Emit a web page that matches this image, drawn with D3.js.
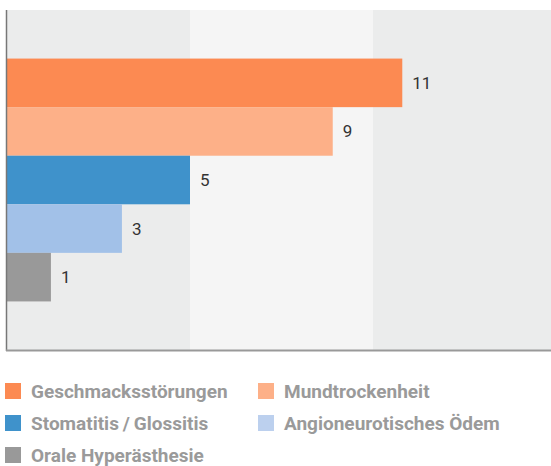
<!DOCTYPE html>
<html>
<head>
<meta charset="utf-8">
<script src="https://cdn.jsdelivr.net/npm/d3@7"></script>
<style>
  body { margin: 0; background: #fff; }
  svg { display: block; font-family: Roboto, "Open Sans", sans-serif; }
</style>
</head>
<body>
<script>
// data
var categories = ["Geschmacksstörungen", "Mundtrockenheit", "Stomatitis\u2009/\u2009Glossitis",
                  "Angioneurotisches Ödem", "Orale Hyperästhesie"];
var values = [10.8, 8.9, 5.0, 3.14, 1.2];
var colors = ["#fc8a52", "#fdb088", "#3f92cb", "#a2c1e8", "#999999"];
var legendColors = ["#fc8a52", "#fdb088", "#3f92cb", "#bcd0ee", "#999999"];
var gridTicks = [0, 5, 10, 15];

var width = 551, height = 466;
var mLeft = 7, mTop = 10, mBottom = 350;

var svg = d3.select("body").append("svg")
    .attr("width", width)
    .attr("height", height);

var x = d3.scaleLinear().domain([0, 15]).range([mLeft, mLeft + 15 * 36.6]);

// 7 slots, first and last empty
var slots = ["_a"].concat(categories).concat(["_b"]);
var y = d3.scaleBand().domain(slots).range([mTop, mBottom]).padding(0);

// background bands
var bands = d3.pairs(gridTicks);
svg.selectAll("rect.band")
    .data(bands)
    .enter().append("rect")
    .attr("class", "band")
    .attr("x", function(d) { return x(d[0]); })
    .attr("y", mTop)
    .attr("width", function(d) { return Math.min(x(d[1]), width) - x(d[0]); })
    .attr("height", mBottom - mTop)
    .attr("fill", function(d, i) { return i % 2 == 0 ? "#ebecec" : "#f5f5f5"; });

// bars
svg.selectAll("rect.bar")
    .data(values)
    .enter().append("rect")
    .attr("class", "bar")
    .attr("x", x(0))
    .attr("y", function(d, i) { return y(categories[i]); })
    .attr("width", function(d) { return x(d) - x(0); })
    .attr("height", y.bandwidth())
    .attr("fill", function(d, i) { return colors[i]; });

// value labels
svg.selectAll("text.val")
    .data(values)
    .enter().append("text")
    .attr("class", "val")
    .attr("x", function(d) { return x(d) + 10; })
    .attr("y", function(d, i) { return y(categories[i]) + y.bandwidth() / 2; })
    .attr("dy", "0.35em")
    .attr("fill", "#333")
    .style("font-size", "17px")
    .text(function(d) { return d3.format(".0f")(d); });

// axes lines
svg.append("line")
    .attr("x1", mLeft - 0.5).attr("x2", mLeft - 0.5)
    .attr("y1", mTop).attr("y2", mBottom + 1)
    .attr("stroke", "#777").attr("stroke-width", 1.5);
svg.append("line")
    .attr("x1", mLeft - 1).attr("x2", width)
    .attr("y1", mBottom + 0.5).attr("y2", mBottom + 0.5)
    .attr("stroke", "#999").attr("stroke-width", 2);

// legend
var legend = svg.selectAll("g.leg")
    .data(categories)
    .enter().append("g")
    .attr("class", "leg")
    .attr("transform", function(d, i) {
        return "translate(" + (i % 2 == 0 ? 5 : 258) + "," + (383 + Math.floor(i / 2) * 32) + ")";
    });
legend.append("rect")
    .attr("width", 16).attr("height", 16)
    .attr("fill", function(d, i) { return legendColors[i]; });
legend.append("text")
    .attr("x", 26)
    .attr("y", 8)
    .attr("dy", "0.35em")
    .attr("fill", "#9a9a9a")
    .style("font-size", "19px")
    .style("font-weight", "bold")
    .text(function(d) { return d; });
</script>
</body>
</html>
